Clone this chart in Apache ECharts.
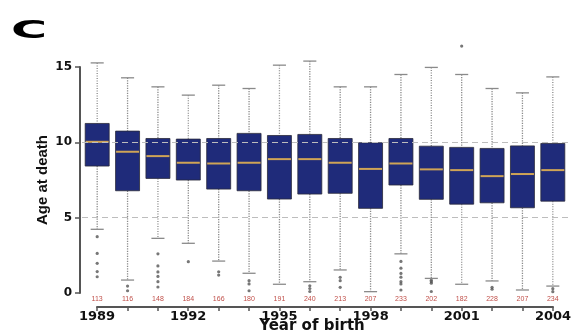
<!DOCTYPE html>
<html>
<head>
<meta charset="utf-8">
<script src="https://cdn.jsdelivr.net/npm/echarts@6/dist/echarts.min.js"></script>
<style>
html,body{margin:0;padding:0;background:#fff;}
#chart{width:574px;height:336px;}
</style>
</head>
<body>
<div id="chart"></div>
<script>
const years = ['1989','1990','1991','1992','1993','1994','1995','1996','1997','1998','1999','2000','2001','2002','2003','2004'];
const counts = [113,116,148,184,166,180,191,240,213,207,233,202,182,228,207,234];
const whiskerLow  = [4.23,0.86,3.63,3.30,2.12,1.31,0.58,0.75,1.53,0.09,2.60,0.97,0.58,0.80,0.20,0.46];
const q1          = [8.43,6.79,7.61,7.50,6.90,6.79,6.24,6.57,6.62,5.62,7.17,6.22,5.90,5.99,5.66,6.10];
const median      = [10.04,9.38,9.09,8.65,8.60,8.65,8.89,8.89,8.65,8.24,8.60,8.21,8.16,7.76,7.90,8.16];
const q3          = [11.26,10.75,10.26,10.22,10.26,10.60,10.46,10.53,10.26,9.98,10.26,9.75,9.67,9.60,9.77,9.93];
const whiskerHigh = [15.28,14.29,13.69,13.14,13.80,13.58,15.13,15.40,13.69,13.69,14.51,14.98,14.51,13.58,13.29,14.35];
const outliers = [
  [3.74,2.63,1.97,1.42,1.08],
  [0.46,0.15],
  [2.6,1.8,1.4,1.1,0.75,0.4],
  [2.08],
  [1.41,1.19],
  [0.82,0.6,0.15],
  [],
  [0.48,0.3,0.1],
  [1.04,0.82,0.38],
  [],
  [2.1,1.65,1.3,1.05,0.75,0.6,0.2],
  [0.85,0.75,0.65,0.1],
  [16.4],
  [0.38,0.25],
  [],
  [0.29,0.09]
];
const yTicks = [0, 5, 10, 15];
const refLines = [5, 10];

const boxData = years.map((y, i) => [i, whiskerLow[i], q1[i], median[i], q3[i], whiskerHigh[i]]);
const outlierData = [];
outliers.forEach((arr, i) => arr.forEach(v => outlierData.push([i, v])));

const chart = echarts.init(document.getElementById('chart'), null, {renderer: 'canvas'});

function renderBox(params, api) {
  const idx = api.value(0);
  const band = api.size([1, 0])[0];
  const boxW = band * 0.79;
  const capW = band * 0.43;
  const pLow = api.coord([idx, api.value(1)]);
  const pQ1 = api.coord([idx, api.value(2)]);
  const pMed = api.coord([idx, api.value(3)]);
  const pQ3 = api.coord([idx, api.value(4)]);
  const pHigh = api.coord([idx, api.value(5)]);
  const x = pLow[0];
  const whiskerStyle = {stroke: '#8a8a8a', lineWidth: 1.3, lineDash: [1.2, 1.3]};
  const capStyle = {stroke: '#8a8a8a', lineWidth: 1.3};
  return {
    type: 'group',
    children: [
      {type: 'line', shape: {x1: x, y1: pHigh[1], x2: x, y2: pQ3[1]}, style: whiskerStyle},
      {type: 'line', shape: {x1: x, y1: pQ1[1], x2: x, y2: pLow[1]}, style: whiskerStyle},
      {type: 'line', shape: {x1: x - capW / 2, y1: pHigh[1], x2: x + capW / 2, y2: pHigh[1]}, style: capStyle},
      {type: 'line', shape: {x1: x - capW / 2, y1: pLow[1], x2: x + capW / 2, y2: pLow[1]}, style: capStyle},
      {type: 'rect', shape: {x: x - boxW / 2, y: pQ3[1], width: boxW, height: pQ1[1] - pQ3[1]},
        style: {fill: '#1f2b7a', stroke: '#2a2a3a', lineWidth: 0.8}},
      {type: 'line', shape: {x1: x - boxW / 2 + 0.5, y1: pMed[1], x2: x + boxW / 2 - 0.5, y2: pMed[1]},
        style: {stroke: '#cfa456', lineWidth: 2}}
    ]
  };
}

const option = {
  animation: false,
  backgroundColor: '#ffffff',
  graphic: [{
    type: 'text', x: 11, y: 32, scaleX: 2.05,
    style: {text: 'C', font: 'bold 24px "DejaVu Sans"', fill: '#000', textVerticalAlign: 'middle', verticalAlign: 'middle'}
  }],
  grid: [
    {left: 82, right: 6, top: 37, bottom: 43, containLabel: false, outerBoundsMode: 'none'},
    {left: 97, right: 21, top: 67, bottom: 43, containLabel: false, outerBoundsMode: 'none'}
  ],
  xAxis: [
    {
      gridIndex: 0, type: 'category', data: years, boundaryGap: true, position: 'bottom',
      axisLine: {show: false, onZero: false}, axisTick: {show: false}, splitLine: {show: false},
      axisLabel: {interval: 0, margin: 3, fontSize: 7, color: '#c0504a', fontFamily: 'Liberation Sans',
        formatter: (v, i) => String(counts[i])}
    },
    {
      gridIndex: 1, type: 'category', data: years, boundaryGap: false, position: 'bottom', offset: 14,
      axisLine: {show: true, onZero: false, lineStyle: {color: '#555', width: 2}},
      axisTick: {show: true, interval: 0, length: 4, lineStyle: {color: '#555', width: 1.5}},
      axisLabel: {interval: 2, margin: 3, fontSize: 13, fontWeight: 'bold', color: '#111', fontFamily: 'DejaVu Sans'},
      splitLine: {show: false},
      name: 'Year of birth', nameLocation: 'middle', nameGap: 12, nameMoveOverlap: false,
      nameTextStyle: {fontSize: 15, fontWeight: 'bold', color: '#111', fontFamily: 'DejaVu Sans', padding: [0, 26, 0, 0]}
    }
  ],
  yAxis: [
    {gridIndex: 0, type: 'value', min: 0, max: 17, show: false, splitLine: {show: false}},
    {
      gridIndex: 1, type: 'value', min: 0, max: 15, interval: 5, offset: 17,
      axisLine: {show: true, onZero: false, lineStyle: {color: '#555', width: 2}},
      axisTick: {show: true, length: 5, lineStyle: {color: '#555', width: 1.5}},
      axisLabel: {margin: 8, fontSize: 12, fontWeight: 'bold', color: '#111', fontFamily: 'DejaVu Sans',
        customValues: yTicks},
      splitLine: {show: false},
      name: 'Age at death', nameLocation: 'middle', nameGap: 30, nameRotate: 90, nameMoveOverlap: false,
      nameTextStyle: {fontSize: 15, fontWeight: 'bold', color: '#111', fontFamily: 'Liberation Sans'}
    }
  ],
  series: [
    {
      type: 'scatter', xAxisIndex: 0, yAxisIndex: 0, z: 1,
      data: outlierData, symbolSize: 3.2,
      itemStyle: {color: '#555'},
      markLine: {
        silent: true, symbol: 'none', label: {show: false},
        lineStyle: {type: [6, 4], color: '#bdbdbd', width: 1},
        data: refLines.map(v => ({yAxis: v}))
      }
    },
    {
      type: 'custom', xAxisIndex: 0, yAxisIndex: 0, z: 2,
      data: boxData, renderItem: renderBox,
      encode: {x: 0, y: [1, 2, 3, 4, 5]}
    }
  ]
};
chart.setOption(option);
</script>
</body>
</html>
